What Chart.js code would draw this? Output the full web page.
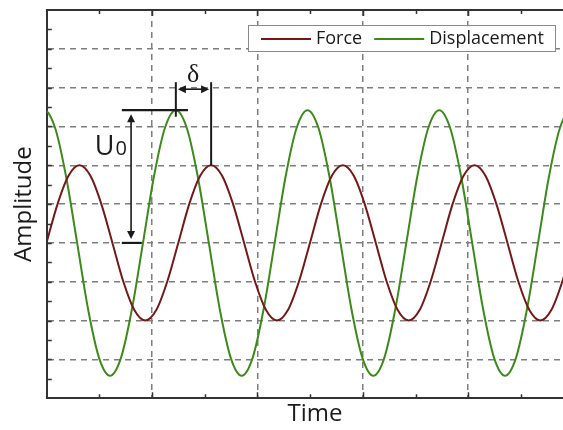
<!DOCTYPE html>
<html>
<head>
<meta charset="utf-8">
<script src="https://cdn.jsdelivr.net/npm/chart.js@4"></script>
<style>
  html, body { margin: 0; padding: 0; background: #fff; overflow: hidden; }
  #wrap { width: 585px; height: 430px; }
</style>
</head>
<body>
<div id="wrap"><canvas id="chart" width="585" height="430"></canvas></div>
<script>
// Force: samples every 30 degrees of phase
const forceTime = [-0.107, -0.003, 0.102, 0.206, 0.31, 0.414, 0.518, 0.623, 0.727, 0.831, 0.935, 1.039,
  1.143, 1.248, 1.352, 1.456, 1.56, 1.664, 1.768, 1.873, 1.977, 2.081, 2.185, 2.289,
  2.393, 2.498, 2.602, 2.706, 2.81, 2.914, 3.018, 3.123, 3.227, 3.331, 3.435, 3.539,
  3.643, 3.748, 3.852, 3.956, 4.06, 4.164, 4.268, 4.373, 4.477, 4.581, 4.685, 4.789,
  4.893, 4.998, 5.102];
const forceValues = [3, 4, 5, 5.73, 6, 5.73, 5, 4, 3, 2.27, 2, 2.27,
  3, 4, 5, 5.73, 6, 5.73, 5, 4, 3, 2.27, 2, 2.27,
  3, 4, 5, 5.73, 6, 5.73, 5, 4, 3, 2.27, 2, 2.27,
  3, 4, 5, 5.73, 6, 5.73, 5, 4, 3, 2.27, 2, 2.27,
  3, 4, 5];

// Displacement
const dispTime = [-0.129, -0.025, 0.079, 0.183, 0.288, 0.392, 0.496, 0.6, 0.704, 0.808, 0.913, 1.017,
  1.121, 1.225, 1.329, 1.433, 1.538, 1.642, 1.746, 1.85, 1.954, 2.058, 2.163, 2.267,
  2.371, 2.475, 2.579, 2.683, 2.788, 2.892, 2.996, 3.1, 3.204, 3.308, 3.413, 3.517,
  3.621, 3.725, 3.829, 3.933, 4.038, 4.142, 4.246, 4.35, 4.454, 4.558, 4.663, 4.767,
  4.871, 4.975, 5.079, 5.183];
const dispValues = [6.96, 7.42, 6.96, 5.71, 4, 2.29, 1.04, 0.58, 1.04, 2.29, 4, 5.71,
  6.96, 7.42, 6.96, 5.71, 4, 2.29, 1.04, 0.58, 1.04, 2.29, 4, 5.71,
  6.96, 7.42, 6.96, 5.71, 4, 2.29, 1.04, 0.58, 1.04, 2.29, 4, 5.71,
  6.96, 7.42, 6.96, 5.71, 4, 2.29, 1.04, 0.58, 1.04, 2.29, 4, 5.71,
  6.96, 7.42, 6.96, 5.71];

const seriesNames = ['Force', 'Displacement'];
const seriesColors = ['#741818', '#3c8a1a'];

const FONT = '"Open Sans", "DejaVu Sans", sans-serif';
const INK = '#1a1a1a';
const GRID = '#7e7e7e';

// inward tick marks + top frame line
const frame = {
  id: 'frame',
  afterDatasetsDraw(chart) {
    const { ctx, chartArea: a, scales: { x, y } } = chart;
    ctx.save();
    ctx.strokeStyle = '#333';
    ctx.lineWidth = 1.5;
    ctx.beginPath();
    for (let v = 0.5; v < x.max; v += 0.5) {
      const px = Math.round(x.getPixelForValue(v)) + 0.5;
      const len = v % 1 === 0 ? 6 : 4;
      ctx.moveTo(px, a.bottom); ctx.lineTo(px, a.bottom - len);
      ctx.moveTo(px, a.top); ctx.lineTo(px, a.top + len);
    }
    for (let v = 0.5; v < y.max; v += 0.5) {
      const py = Math.round(y.getPixelForValue(v)) + 0.5;
      ctx.moveTo(a.left, py); ctx.lineTo(a.left + 5, py);
    }
    ctx.stroke();
    ctx.lineWidth = 2;
    ctx.beginPath();
    ctx.moveTo(a.left, a.top); ctx.lineTo(a.right, a.top);
    ctx.stroke();
    ctx.restore();
  }
};

// U0 and delta markers, positioned in data units
const markers = {
  id: 'markers',
  afterDatasetsDraw(chart) {
    const { ctx, scales: { x, y } } = chart;
    const X = v => x.getPixelForValue(v);
    const Y = v => y.getPixelForValue(v);
    const line = (x1, y1, x2, y2) => {
      ctx.beginPath(); ctx.moveTo(X(x1), Y(y1)); ctx.lineTo(X(x2), Y(y2)); ctx.stroke();
    };
    // arrow head at (px,py) pointing in direction (dx,dy)
    const head = (px, py, dx, dy) => {
      const L = 8, W = 4;
      ctx.beginPath();
      ctx.moveTo(px, py);
      ctx.lineTo(px - dx * L - dy * W, py - dy * L + dx * W);
      ctx.lineTo(px - dx * L + dy * W, py - dy * L - dx * W);
      ctx.closePath();
      ctx.fill();
    };
    ctx.save();
    ctx.strokeStyle = INK;
    ctx.fillStyle = INK;
    ctx.lineWidth = 2.2;

    // U0 bars and arrow
    line(0.712, 7.42, 1.34, 7.42);
    line(0.712, 4, 0.9, 4);
    const ux = X(0.8);
    ctx.lineWidth = 1.6;
    ctx.beginPath(); ctx.moveTo(ux, Y(7.42) + 6); ctx.lineTo(ux, Y(4) - 6); ctx.stroke();
    head(ux, Y(7.42) + 4, 0, -1);
    head(ux, Y(4) - 4, 0, 1);

    // delta: peak tick, force peak line, double arrow
    ctx.lineWidth = 2;
    line(1.225, 7.25, 1.225, 8.14);
    line(1.56, 6, 1.56, 8.14);
    const dy = Y(7.96);
    ctx.lineWidth = 1.6;
    ctx.beginPath(); ctx.moveTo(X(1.225) + 4, dy); ctx.lineTo(X(1.56) - 4, dy); ctx.stroke();
    head(X(1.225) + 2, dy, -1, 0);
    head(X(1.56) - 2, dy, 1, 0);

    // labels
    ctx.textBaseline = 'alphabetic';
    ctx.textAlign = 'center';
    ctx.font = '26px "Liberation Serif", serif';
    ctx.fillText('δ', X(1.39), Y(8.15));
    ctx.textAlign = 'left';
    ctx.font = '27px ' + FONT;
    const ub = Y(6.26);
    const uLeft = X(0.455);
    ctx.fillText('U', uLeft, ub);
    const uw = ctx.measureText('U').width;
    ctx.font = '20px ' + FONT;
    ctx.fillText('0', uLeft + uw + 1, ub);
    ctx.restore();
  }
};

// boxed legend in the top right
const boxLegend = {
  id: 'boxLegend',
  afterDraw(chart) {
    const { ctx } = chart;
    const left = 248, top = 25, w = 307, h = 26;
    ctx.save();
    ctx.fillStyle = '#fff';
    ctx.fillRect(left, top, w, h);
    ctx.strokeStyle = '#8a8a8a';
    ctx.lineWidth = 1;
    ctx.strokeRect(left + 0.5, top + 0.5, w, h);
    ctx.font = '18px ' + FONT;
    ctx.textBaseline = 'middle';
    ctx.textAlign = 'left';
    let cx = left + 13;
    const cy = top + h / 2 + 1;
    chart.data.datasets.forEach(ds => {
      ctx.strokeStyle = ds.borderColor;
      ctx.lineWidth = 2;
      ctx.beginPath(); ctx.moveTo(cx, cy); ctx.lineTo(cx + 50, cy); ctx.stroke();
      cx += 55;
      ctx.fillStyle = INK;
      ctx.fillText(ds.label, cx, cy);
      cx += ctx.measureText(ds.label).width + 12;
    });
    ctx.restore();
  }
};

new Chart(document.getElementById('chart'), {
  type: 'line',
  data: {
    datasets: [
      {
        label: seriesNames[0],
        data: forceTime.map((t, i) => ({ x: t, y: forceValues[i] })),
        borderColor: seriesColors[0],
        borderWidth: 2,
        pointRadius: 0,
        cubicInterpolationMode: 'monotone'
      },
      {
        label: seriesNames[1],
        data: dispTime.map((t, i) => ({ x: t, y: dispValues[i] })),
        borderColor: seriesColors[1],
        borderWidth: 2,
        pointRadius: 0,
        cubicInterpolationMode: 'monotone'
      }
    ]
  },
  options: {
    responsive: false,
    animation: false,
    events: [],
    layout: { padding: { left: 10, top: 10, right: 2, bottom: 1 } },
    plugins: {
      legend: { display: false },
      tooltip: { enabled: false }
    },
    scales: {
      x: {
        type: 'linear',
        min: 0,
        max: 5.09,
        ticks: { display: false, stepSize: 1 },
        grid: { color: GRID, lineWidth: 1.5, drawTicks: false },
        border: { color: '#333', width: 2, dash: [6, 5] },
        title: {
          display: true,
          text: 'Time',
          color: INK,
          font: { family: FONT, size: 24 },
          padding: { top: 2, bottom: 0 }
        }
      },
      y: {
        min: 0,
        max: 10,
        ticks: { display: false, stepSize: 1 },
        grid: { color: GRID, lineWidth: 1.5, drawTicks: false },
        border: { color: '#333', width: 2, dash: [6, 5] },
        title: {
          display: true,
          text: 'Amplitude',
          color: INK,
          font: { family: FONT, size: 24 },
          padding: { top: 0, bottom: 8 }
        }
      }
    }
  },
  plugins: [frame, markers, boxLegend]
});
</script>
</body>
</html>
